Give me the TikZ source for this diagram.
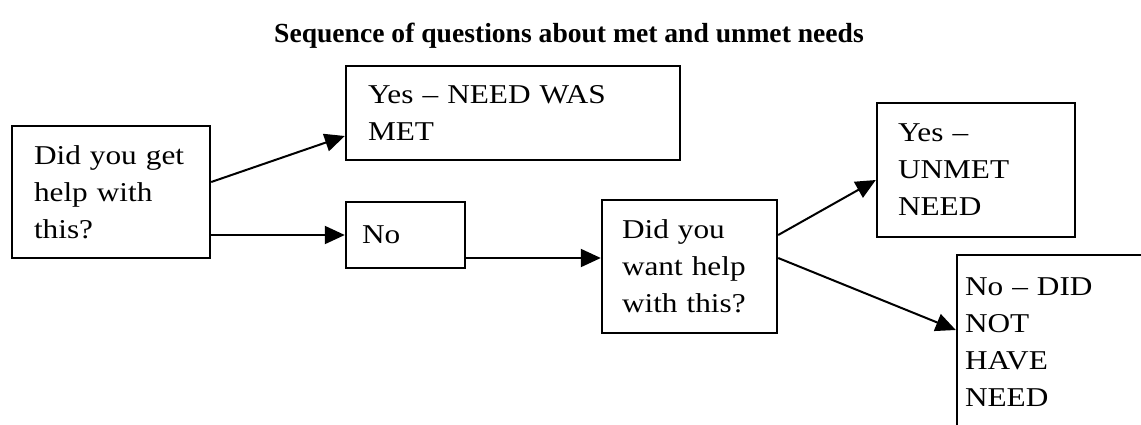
\documentclass[tikz,border=0pt]{standalone}
\usepackage{fontspec}
\setmainfont{Liberation Serif}
\newfontfamily\boxfont[FakeStretch=1.15,Ligatures=TeX]{Liberation Serif}
\usetikzlibrary{arrows.meta,positioning}

\begin{document}
\begin{tikzpicture}[->,>={Triangle[length=10pt,width=9pt]},line width=1pt,
            x=0.5pt,y=-0.5pt,
            box/.style={draw,rectangle,line width=1.2pt,align=left,inner ysep=0pt,
                        font=\boxfont\fontsize{13.6pt}{18.5pt}\selectfont},
            title/.style={font=\bfseries\fontsize{13.8pt}{16pt}\selectfont}]

      \useasboundingbox (0,0) rectangle (1141,424);
      \clip (0,0) rectangle (1141,424);

      \node[title] (head) at (569,36) {Sequence of questions about met and unmet needs};

      \node[box,minimum width=99pt,minimum height=66pt,inner xsep=11pt,text width=77pt]
            (got) at (111,192) {Did you get\\help with\\this?};
      \node[box,minimum width=167pt,minimum height=47pt,inner xsep=11pt,text width=145pt]
            (met) at (513,113) {Yes – NEED WAS\\MET};
      \node[box,minimum width=59.5pt,minimum height=33pt,inner xsep=8pt,text width=43.5pt]
            (no) at (405.5,235) {No};
      \node[box,minimum width=87.5pt,minimum height=66.5pt,inner xsep=10pt,text width=67.5pt]
            (want) at (689.5,266.5) {Did you\\want help\\with this?};
      \node[box,minimum width=99pt,minimum height=67pt,inner xsep=10.5pt,text width=78pt]
            (unmet) at (976,170) {Yes –\\UNMET\\NEED};
      \node[box,minimum width=101.5pt,minimum height=87.5pt,inner xsep=4pt,text width=93.5pt]
            (noneed) at (1058.5,342.5) {No – DID\\NOT\\HAVE\\NEED};

      \draw ([yshift=5pt]got.east) -- ([yshift=-11.5pt]met.west);
      \draw (got.east |- no.west) -- (no.west);
      \draw ([yshift=-11.5pt]no.east) -- ([yshift=-11.5pt]no.east -| want.west);
      \draw ([yshift=15.75pt]want.east) -- ([yshift=-5pt]unmet.west);
      \draw ([yshift=4.25pt]want.east) -- ([yshift=6.25pt]noneed.west);

\end{tikzpicture}
\end{document}
